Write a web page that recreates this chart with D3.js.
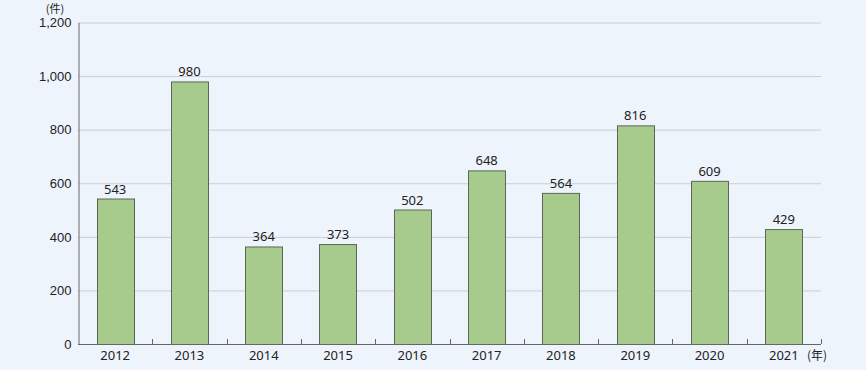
<!DOCTYPE html>
<html><head><meta charset="utf-8">
<script src="https://cdn.jsdelivr.net/npm/d3@7"></script>
<style>body{margin:0;background:#eef4fc;}svg{display:block;font-family:"Noto Sans","Open Sans",sans-serif;}</style>
</head><body>
<script>
const years = ["2012","2013","2014","2015","2016","2017","2018","2019","2020","2021"];
const counts = [543,980,364,373,502,648,564,816,609,429];
const yTicks = [0,200,400,600,800,1000,1200];

const W=866,H=370;
const m={l:78,r:45,t:22.5,b:26};
const svg=d3.select("body").append("svg").attr("width",W).attr("height",H);
svg.append("rect").attr("width",W).attr("height",H).attr("fill","#eef4fc");
const x=d3.scaleBand().domain(years).range([m.l,W-m.r]).paddingInner(0.5).paddingOuter(0.25);
const y=d3.scaleLinear().domain([0,1200]).range([H-m.b,m.t]);

svg.append("g").selectAll("line").data(yTicks.filter(d=>d>0)).join("line")
 .attr("x1",m.l).attr("x2",W-m.r).attr("y1",d=>y(d)+0.5).attr("y2",d=>y(d)+0.5)
 .attr("stroke","#c9ccd6").attr("stroke-width",1);

const yAxis=svg.append("g").attr("transform",`translate(${m.l+0.5},0)`)
 .call(d3.axisLeft(y).tickValues(yTicks).tickSize(0).tickPadding(7).tickFormat(d3.format(",")));
yAxis.select(".domain").attr("stroke","#666");
yAxis.selectAll("text").attr("font-size",13).attr("fill","#222");

svg.append("g").selectAll("rect").data(years).join("rect")
 .attr("x",d=>Math.round(x(d))+0.5).attr("width",Math.round(x.bandwidth()))
 .attr("y",(d,i)=>y(counts[i])+0.5).attr("height",(d,i)=>y(0)-y(counts[i]))
 .attr("fill","#a6cb8c").attr("stroke","#5d6656").attr("stroke-width",1);

svg.append("g").selectAll("text").data(years).join("text")
 .attr("x",d=>x(d)+x.bandwidth()/2).attr("y",(d,i)=>y(counts[i])-5)
 .attr("text-anchor","middle").attr("font-size",13).attr("fill","#222")
 .text((d,i)=>counts[i]);

const step=x.step();
const bounds=d3.range(1,years.length+1).map(i=>m.l+step*i);
svg.append("g").selectAll("line").data(bounds).join("line")
 .attr("x1",d=>Math.round(d)+0.5).attr("x2",d=>Math.round(d)+0.5)
 .attr("y1",y(0)).attr("y2",y(0)-5).attr("stroke","#666");
svg.append("line").attr("x1",m.l).attr("x2",W-m.r).attr("y1",y(0)+0.5).attr("y2",y(0)+0.5).attr("stroke","#666");

svg.append("g").selectAll("text").data(years).join("text")
 .attr("x",d=>x(d)+x.bandwidth()/2).attr("y",y(0)+16)
 .attr("text-anchor","middle").attr("font-size",13).attr("fill","#222").text(d=>d);

svg.append("text").attr("x",807).attr("y",y(0)+16).attr("font-size",12).attr("fill","#222")
 .attr("font-family","'Noto Sans CJK JP',sans-serif").text("(年)");
svg.append("text").attr("x",55).attr("y",12.5).attr("text-anchor","middle").attr("font-size",11).attr("fill","#222")
 .attr("font-family","'Noto Sans CJK JP',sans-serif").text("(件)");
</script>
</body></html>
